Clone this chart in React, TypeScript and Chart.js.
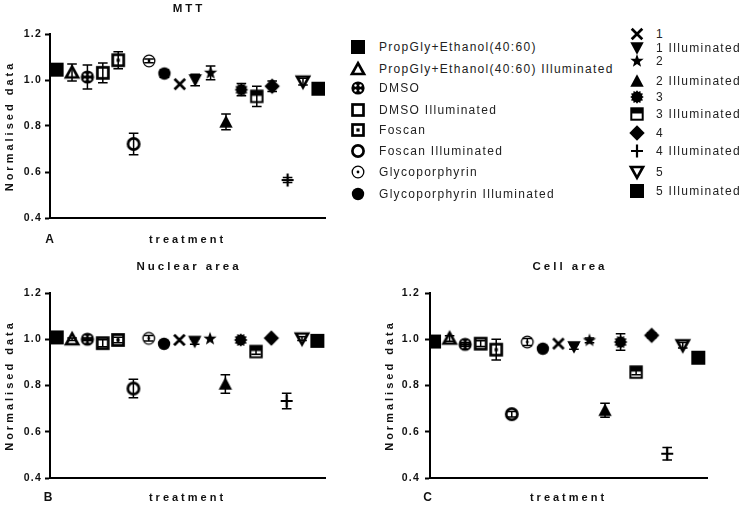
import React, { useEffect, useRef } from 'react';
import { Chart, registerables } from 'chart.js';

Chart.register(...registerables);

// ---------------- DATA ----------------
const categories = [
  'PropGly+Ethanol(40:60)',
  'PropGly+Ethanol(40:60) Illuminated',
  'DMSO',
  'DMSO Illuminated',
  'Foscan',
  'Foscan Illuminated',
  'Glycoporphyrin',
  'Glycoporphyrin Illuminated',
  '1',
  '1 Illuminated',
  '2',
  '2 Illuminated',
  '3',
  '3 Illuminated',
  '4',
  '4 Illuminated',
  '5',
  '5 Illuminated',
];

const mttMean = [1.045, 1.033, 1.013, 1.031, 1.086, 0.722, 1.083, 1.028, 0.982, 1.0, 1.031, 0.818, 0.958, 0.929, 0.973, 0.565, 0.993, 0.962];
const mttErr = [0, 0.037, 0.052, 0.043, 0.037, 0.047, 0.008, 0.016, 0, 0.025, 0.03, 0.034, 0.027, 0.044, 0.023, 0.011, 0.015, 0];

const nucMean = [1.008, 1.0, 1.0, 0.983, 0.997, 0.787, 1.004, 0.98, 0.997, 0.99, 1.002, 0.807, 0.997, 0.947, 1.005, 0.733, 1.003, 0.993];
const nucErr = [0, 0.005, 0.005, 0.015, 0.012, 0.04, 0.012, 0, 0, 0.012, 0, 0.04, 0, 0.012, 0, 0.033, 0.008, 0];

const cellMean = [0.99, 1.003, 0.978, 0.981, 0.955, 0.676, 0.988, 0.959, 0.981, 0.967, 0.995, 0.693, 0.988, 0.858, 1.017, 0.505, 0.974, 0.92];
const cellErr = [0, 0.012, 0.008, 0.012, 0.045, 0.012, 0.015, 0, 0, 0.01, 0.01, 0.03, 0.036, 0.012, 0.01, 0.027, 0.012, 0];

const yTicks = [0.4, 0.6, 0.8, 1.0, 1.2];

// ---------------- STYLE ----------------
const markerKinds = [
  'squareFill', 'triOpen', 'circDots', 'squareOpen', 'squareDot', 'circOpen', 'circDot', 'circFill',
  'cross', 'triDownFill', 'star', 'triFill', 'burst', 'squareHalf', 'diamond', 'plus', 'triDownOpen', 'squareFill',
];

const FONT = '"Liberation Sans", Arial, Helvetica, sans-serif';

function drawMarker(ctx: CanvasRenderingContext2D, kind: string, cx: number, cy: number) {
  ctx.save();
  ctx.fillStyle = '#000';
  ctx.strokeStyle = '#000';
  ctx.lineJoin = 'miter';
  const poly = (pts: number[][], fill: boolean) => {
    ctx.beginPath();
    ctx.moveTo(cx + pts[0][0], cy + pts[0][1]);
    for (let i = 1; i < pts.length; i++) ctx.lineTo(cx + pts[i][0], cy + pts[i][1]);
    ctx.closePath();
    if (fill) ctx.fill(); else ctx.stroke();
  };
  const starPts = (n: number, ro: number, ri: number) => {
    const pts: number[][] = [];
    for (let i = 0; i < n * 2; i++) {
      const r = i % 2 === 0 ? ro : ri;
      const a = -Math.PI / 2 + (i * Math.PI) / n;
      pts.push([r * Math.cos(a), r * Math.sin(a)]);
    }
    return pts;
  };
  switch (kind) {
    case 'squareFill':
      ctx.fillRect(cx - 7, cy - 7, 14, 14);
      break;
    case 'triOpen':
      ctx.lineWidth = 2.7;
      poly([[0, -5.8], [6, 5], [-6, 5]], false);
      break;
    case 'circDots':
      ctx.beginPath();
      ctx.arc(cx, cy, 6.6, 0, Math.PI * 2);
      ctx.fill();
      ctx.fillStyle = '#fff';
      [[-2.5, -2.5], [2.5, -2.5], [-2.5, 2.5], [2.5, 2.5]].forEach(([dx, dy]) => {
        ctx.beginPath();
        ctx.arc(cx + dx, cy + dy, 1.2, 0, Math.PI * 2);
        ctx.fill();
      });
      break;
    case 'squareOpen':
      ctx.lineWidth = 2.7;
      ctx.strokeRect(cx - 5.5, cy - 5.5, 11, 11);
      break;
    case 'squareDot':
      ctx.lineWidth = 2.7;
      ctx.strokeRect(cx - 5.5, cy - 5.5, 11, 11);
      ctx.fillRect(cx - 1.6, cy - 1.6, 3.2, 3.2);
      break;
    case 'circOpen':
      ctx.lineWidth = 2.7;
      ctx.beginPath();
      ctx.arc(cx, cy, 5.6, 0, Math.PI * 2);
      ctx.stroke();
      break;
    case 'circDot':
      ctx.lineWidth = 1.3;
      ctx.beginPath();
      ctx.arc(cx, cy, 5.8, 0, Math.PI * 2);
      ctx.stroke();
      ctx.beginPath();
      ctx.arc(cx, cy, 1.4, 0, Math.PI * 2);
      ctx.fill();
      break;
    case 'circFill':
      ctx.beginPath();
      ctx.arc(cx, cy, 6.2, 0, Math.PI * 2);
      ctx.fill();
      break;
    case 'cross':
      ctx.lineWidth = 2.7;
      ctx.beginPath();
      ctx.moveTo(cx - 5.3, cy - 5.3);
      ctx.lineTo(cx + 5.3, cy + 5.3);
      ctx.moveTo(cx + 5.3, cy - 5.3);
      ctx.lineTo(cx - 5.3, cy + 5.3);
      ctx.stroke();
      break;
    case 'triDownFill':
      poly([[-6.7, -5.7], [6.7, -5.7], [0, 6.7]], true);
      break;
    case 'star':
      poly(starPts(5, 7, 2.9), true);
      break;
    case 'triFill':
      poly([[0, -6.7], [6.7, 5.7], [-6.7, 5.7]], true);
      break;
    case 'burst':
      poly(starPts(12, 6.8, 5.2), true);
      break;
    case 'squareHalf':
      ctx.lineWidth = 2;
      ctx.strokeRect(cx - 5.7, cy - 5.7, 11.4, 11.4);
      ctx.fillRect(cx - 5.7, cy - 5.7, 11.4, 5.2);
      break;
    case 'diamond':
      poly([[0, -7.7], [7.7, 0], [0, 7.7], [-7.7, 0]], true);
      break;
    case 'plus':
      ctx.lineWidth = 2.2;
      ctx.beginPath();
      ctx.moveTo(cx - 6, cy);
      ctx.lineTo(cx + 6, cy);
      ctx.moveTo(cx, cy - 6.5);
      ctx.lineTo(cx, cy + 6.5);
      ctx.stroke();
      break;
    case 'triDownOpen':
      ctx.lineWidth = 2.7;
      poly([[-6, -5], [6, -5], [0, 5.8]], false);
      break;
  }
  ctx.restore();
}

function makeMarkerImage(kind: string) {
  const c = document.createElement('canvas');
  c.width = 20;
  c.height = 20;
  const ctx = c.getContext('2d')!;
  drawMarker(ctx, kind, 10, 10);
  return c;
}

type PanelDef = {
  title: string;
  letter: string;
  means: number[];
  errs: number[];
  left: number;
  top: number;
  width: number;
  height: number;
  pad: { top: number; left: number; right: number; bottom: number };
  yW: number;
  xH: number;
  xMin: number;
  xMax: number;
  tickPad: number;
  titleY: number;
  letterX: number;
  letterY: number;
  xTitlePad: number;
};

const panels: PanelDef[] = [
  {
    title: 'MTT', letter: 'A', means: mttMean, errs: mttErr,
    left: 0, top: 0, width: 335, height: 250,
    pad: { top: 34, left: 0, right: 10, bottom: 0 }, yW: 50, xH: 32,
    xMin: -0.43, xMax: 17.43, tickPad: 3, titleY: 9, letterX: 49.5, letterY: 240, xTitlePad: 3.4,
  },
  {
    title: 'Nuclear area', letter: 'B', means: nucMean, errs: nucErr,
    left: 0, top: 250, width: 340, height: 257,
    pad: { top: 43, left: 0, right: 15, bottom: 0 }, yW: 50, xH: 29,
    xMin: -0.44, xMax: 17.5, tickPad: 3, titleY: 17, letterX: 48, letterY: 248, xTitlePad: 2.4,
  },
  {
    title: 'Cell area', letter: 'C', means: cellMean, errs: cellErr,
    left: 370, top: 250, width: 372, height: 257,
    pad: { top: 43, left: 10, right: 35, bottom: 0 }, yW: 50, xH: 29,
    xMin: -0.26, xMax: 17.56, tickPad: 5, titleY: 17, letterX: 57.5, letterY: 248, xTitlePad: 2.4,
  },
];

function makePanelPlugin(p: PanelDef) {
  return {
    id: 'panelExtras',
    beforeDraw(chart: any) {
      chart.ctx.letterSpacing = '3px';
    },
    afterDatasetsDraw(chart: any) {
      const { ctx } = chart;
      const xs = chart.scales.x;
      const ys = chart.scales.y;
      ctx.save();
      ctx.strokeStyle = '#000';
      ctx.lineWidth = 1.5;
      p.means.forEach((m, i) => {
        const e = p.errs[i];
        if (!e) return;
        const x = xs.getPixelForValue(i);
        const y1 = ys.getPixelForValue(m + e);
        const y2 = ys.getPixelForValue(m - e);
        ctx.beginPath();
        ctx.moveTo(x, y1);
        ctx.lineTo(x, y2);
        ctx.moveTo(x - 4.8, y1);
        ctx.lineTo(x + 4.8, y1);
        ctx.moveTo(x - 4.8, y2);
        ctx.lineTo(x + 4.8, y2);
        ctx.stroke();
      });
      ctx.restore();
      ctx.letterSpacing = '1.2px';
    },
    afterDraw(chart: any) {
      const { ctx, chartArea } = chart;
      ctx.save();
      ctx.fillStyle = '#111';
      ctx.textAlign = 'center';
      ctx.textBaseline = 'middle';
      ctx.letterSpacing = '3px';
      ctx.font = `bold 11.5px ${FONT}`;
      ctx.fillText(p.title, (chartArea.left + chartArea.right) / 2 + 1.5, p.titleY);
      ctx.letterSpacing = '0px';
      ctx.font = `bold 12px ${FONT}`;
      ctx.fillText(p.letter, p.letterX, p.letterY);
      ctx.restore();
    },
  };
}

function Panel({ p }: { p: PanelDef }) {
  const ref = useRef<HTMLCanvasElement | null>(null);
  useEffect(() => {
    if (!ref.current) return;
    const images = markerKinds.map(makeMarkerImage);
    const chart = new Chart(ref.current, {
      type: 'scatter',
      data: {
        datasets: [
          {
            data: p.means.map((m, i) => ({ x: i, y: m })),
            pointStyle: images as any,
            pointRadius: 6,
            backgroundColor: '#000',
            borderColor: '#000',
            showLine: false,
          },
        ],
      },
      options: {
        animation: false,
        responsive: false,
        events: [],
        layout: { padding: p.pad },
        plugins: { legend: { display: false }, tooltip: { enabled: false }, title: { display: false } },
        scales: {
          x: {
            type: 'linear',
            min: p.xMin,
            max: p.xMax,
            ticks: { display: false },
            grid: { display: false },
            border: { display: true, color: '#000', width: 2 },
            title: {
              display: true,
              text: 'treatment',
              color: '#111',
              font: { family: FONT, size: 11, weight: 'bold' },
              padding: { top: 0, bottom: p.xTitlePad },
            },
            afterFit: (s: any) => {
              s.height = p.xH;
            },
          },
          y: {
            min: 0.4,
            max: 1.2,
            afterBuildTicks: (s: any) => {
              s.ticks = yTicks.map((v) => ({ value: v }));
            },
            ticks: {
              z: 1,
              color: '#111',
              padding: p.tickPad,
              font: { family: FONT, size: 10.5, weight: 'bold' },
              callback: (v: any) => Number(v).toFixed(1),
            },
            grid: {
              display: true,
              drawOnChartArea: false,
              drawTicks: true,
              tickLength: 5,
              tickColor: '#000',
              tickWidth: 2,
              color: '#000',
            },
            border: { display: true, color: '#000', width: 2 },
            title: {
              display: true,
              text: 'Normalised data',
              color: '#111',
              font: { family: FONT, size: 11, weight: 'bold' },
              padding: { top: 3, bottom: 0 },
            },
            afterFit: (s: any) => {
              s.width = p.yW;
            },
          },
        },
      } as any,
      plugins: [makePanelPlugin(p)],
    });
    return () => chart.destroy();
  }, [p]);
  return (
    <canvas
      ref={ref}
      width={p.width}
      height={p.height}
      style={{ position: 'absolute', left: p.left, top: p.top, width: p.width, height: p.height }}
    />
  );
}

// legend layout
const legendCol1 = { iconX: 358, textX: 379, ys: [47, 69, 88, 110, 130, 151, 172, 194] };
const legendCol2 = { iconX: 637, textX: 656, ys: [34, 48, 61, 81, 97, 114, 133, 151, 172, 191] };

function LegendIcon({ kind, x, y }: { kind: string; x: number; y: number }) {
  const ref = useRef<HTMLCanvasElement | null>(null);
  useEffect(() => {
    const c = ref.current;
    if (!c) return;
    const ctx = c.getContext('2d')!;
    ctx.clearRect(0, 0, 20, 20);
    drawMarker(ctx, kind, 10, 10);
  }, [kind]);
  return (
    <canvas ref={ref} width={20} height={20} style={{ position: 'absolute', left: x - 10, top: y - 10, width: 20, height: 20 }} />
  );
}

function Legend() {
  const items = categories.map((name, i) => {
    const col = i < 8 ? legendCol1 : legendCol2;
    const y = i < 8 ? legendCol1.ys[i] : legendCol2.ys[i - 8];
    return (
      <React.Fragment key={name}>
        <LegendIcon kind={markerKinds[i]} x={col.iconX} y={y} />
        <div
          style={{
            position: 'absolute',
            left: col.textX,
            top: y - 8,
            height: 16,
            lineHeight: '16px',
            fontFamily: FONT,
            fontSize: 12,
            letterSpacing: '1.3px',
            color: '#222',
            whiteSpace: 'nowrap',
          }}
        >
          {name}
        </div>
      </React.Fragment>
    );
  });
  return <>{items}</>;
}

export default function App() {
  return (
    <div style={{ position: 'absolute', left: 0, top: 0, width: 742, height: 507, background: '#fff', overflow: 'hidden' }}>
      {panels.map((p) => (
        <Panel key={p.letter} p={p} />
      ))}
      <Legend />
    </div>
  );
}
